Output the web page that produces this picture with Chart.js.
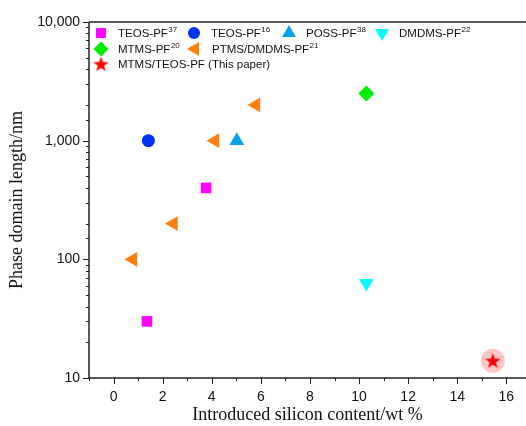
<!DOCTYPE html>
<html>
<head>
<meta charset="utf-8">
<script src="https://cdn.jsdelivr.net/npm/chart.js@4/dist/chart.umd.min.js"></script>
<style>
  html,body{margin:0;padding:0;background:#fff}
  canvas{display:block}
</style>
</head>
<body>
<canvas id="c" width="526" height="426"></canvas>
<script>
// data
const seriesNames = ['TEOS-PF','TEOS-PF','POSS-PF','DMDMS-PF','MTMS-PF','PTMS/DMDMS-PF','MTMS/TEOS-PF (This paper)'];
const seriesRefs  = ['37','16','38','22','20','21',''];
const teos37X = [1.36, 3.77],  teos37Y = [30, 400];
const teos16X = [1.42],        teos16Y = [1000];
const poss38X = [5.02],        poss38Y = [1000];
const dmdms22X = [10.3],       dmdms22Y = [63];
const mtms20X = [10.3],        mtms20Y = [2500];
const ptms21X = [0.79, 2.44, 4.13, 5.8], ptms21Y = [100, 200, 1000, 2000];
const thisX = [15.45],         thisY = [14];
const yMajor = [10, 100, 1000, 10000];

const pts = (xs, ys) => xs.map((x, i) => ({x, y: ys[i]}));

// filled star marker
const star = document.createElement('canvas');
star.width = 17; star.height = 17;
(function(){
  const g = star.getContext('2d');
  g.fillStyle = '#ff0000';
  g.beginPath();
  for(let k=0;k<10;k++){
    const r = k%2 ? 3.3 : 8.2;
    const a = -Math.PI/2 + k*Math.PI/5;
    const px = 8.5 + r*Math.cos(a), py = 9.2 + r*Math.sin(a);
    k ? g.lineTo(px,py) : g.moveTo(px,py);
  }
  g.closePath(); g.fill();
})();

const styles = [
  {pointStyle:'rect', radius:7.5, rotation:0, color:'#ff00ff'},
  {pointStyle:'circle', radius:6.5, rotation:0, color:'#0033f0'},
  {pointStyle:'triangle', radius:8.5, rotation:0, color:'#0aa0f0'},
  {pointStyle:'triangle', radius:8.5, rotation:180, color:'#00ffff'},
  {pointStyle:'rectRot', radius:8, rotation:0, color:'#00ee00'},
  {pointStyle:'triangle', radius:8.5, rotation:-90, color:'#ff8010'},
  {pointStyle:star, radius:8, rotation:0, color:'#ff0000'}
];
const seriesData = [pts(teos37X,teos37Y), pts(teos16X,teos16Y), pts(poss38X,poss38Y),
  pts(dmdms22X,dmdms22Y), pts(mtms20X,mtms20Y), pts(ptms21X,ptms21Y), pts(thisX,thisY)];

const datasets = seriesData.map((d,i)=>({
  label: seriesNames[i], data: d,
  pointStyle: styles[i].pointStyle, pointRadius: styles[i].radius, pointRotation: styles[i].rotation,
  backgroundColor: styles[i].color, borderWidth: 0, pointBorderWidth: 0
}));
// pink halo behind the star
datasets.push({label:'halo', data: pts(thisX,thisY), pointStyle:'circle', pointRadius:12,
  backgroundColor:'rgba(255,90,90,0.35)', borderWidth:0, pointBorderWidth:0});

const axisColor = '#222';

const framePlugin = {
  id:'frame',
  // plot runs right up to the canvas edge, like the original figure
  afterLayout(chart){
    const xs = chart.scales.x, W = chart.width;
    xs.right = W; xs.width = W - xs.left;
    chart.chartArea.right = W; chart.chartArea.width = W - chart.chartArea.left;
    xs.configure();
  },
  afterDraw(chart){
    const ctx = chart.ctx, a = chart.chartArea, xs = chart.scales.x, ys = chart.scales.y;
    ctx.save();
    ctx.strokeStyle = axisColor; ctx.lineWidth = 1.5;
    ctx.beginPath();
    ctx.moveTo(a.left, a.top); ctx.lineTo(a.right, a.top);
    ctx.moveTo(a.left, a.top); ctx.lineTo(a.left, a.bottom);
    ctx.moveTo(a.left, a.bottom); ctx.lineTo(a.right, a.bottom);
    ctx.stroke();
    ctx.lineWidth = 1;
    ctx.beginPath();
    // x ticks
    for(let v=-1; v<=16; v++){
      const px = Math.round(xs.getPixelForValue(v))+0.5;
      const len = (v%2===0) ? 6 : 3;
      ctx.moveTo(px, a.bottom); ctx.lineTo(px, a.bottom+len);
    }
    // y ticks
    ys.ticks.forEach(t=>{
      const py = Math.round(ys.getPixelForValue(t.value))+0.5;
      const len = yMajor.includes(t.value) ? 6 : 3;
      ctx.moveTo(a.left, py); ctx.lineTo(a.left-len, py);
    });
    ctx.stroke();

    // legend inside plot
    const rows = [[0,1,2,3],[4,5],[6]];
    const rowY = [33, 49, 64];
    const colX = [[101,194,289,382],[101,195],[101]];
    const draw = Chart.helpers && Chart.helpers.drawPoint;
    rows.forEach((r,ri)=>r.forEach((i,ci)=>{
      const mx = colX[ri][ci], my = rowY[ri], s = styles[i];
      ctx.fillStyle = s.color;
      if(draw) draw(ctx, {pointStyle:s.pointStyle, radius:s.radius-0.5, rotation:s.rotation, borderWidth:0}, mx, my);
      ctx.fillStyle = '#111';
      ctx.font = '11.5px "Liberation Sans", Arial, sans-serif';
      ctx.textBaseline = 'middle'; ctx.textAlign = 'left';
      const tx = mx + 17;
      ctx.fillText(seriesNames[i], tx, my+1);
      if(seriesRefs[i]){
        const w = ctx.measureText(seriesNames[i]).width;
        ctx.font = '8px "Liberation Sans", Arial, sans-serif';
        ctx.fillText(seriesRefs[i], tx + w + 0.5, my-3);
      }
    }));
    ctx.restore();
  }
};

new Chart(document.getElementById('c'), {
  type:'scatter',
  data:{datasets},
  options:{
    responsive:false, animation:false,
    layout:{padding:{top:22, right:0, left:0, bottom:0}},
    plugins:{legend:{display:false}, tooltip:{enabled:false}},
    scales:{
      x:{
        type:'linear', min:-1, max:16.8,
        afterFit(s){ s.height = 48; },
        grid:{display:false, drawTicks:false}, border:{display:false},
        ticks:{stepSize:1, includeBounds:false, padding:11, color:'#111', maxRotation:0, autoSkip:false,
          font:{family:'"Liberation Sans", Arial, sans-serif', size:14},
          callback:(v)=> (Number.isInteger(v) && v>=0 && v%2===0) ? String(v) : ''},
        title:{display:true, text:'Introduced silicon content/wt %', color:'#111',
          font:{family:'"Liberation Serif", "Times New Roman", serif', size:18}, padding:{top:0,bottom:0}}
      },
      y:{
        type:'logarithmic', min:10, max:10000,
        afterFit(s){ s.width = 89; },
        grid:{display:false, drawTicks:false}, border:{display:false},
        ticks:{padding:9, color:'#111', autoSkip:false,
          font:{family:'"Liberation Sans", Arial, sans-serif', size:14},
          callback:(v)=> yMajor.includes(v) ? v.toLocaleString('en-US') : ''},
        title:{display:true, text:'Phase domain length/nm', color:'#111',
          font:{family:'"Liberation Serif", "Times New Roman", serif', size:18}, padding:{top:6,bottom:0}}
      }
    }
  },
  plugins:[framePlugin]
});
</script>
</body>
</html>
